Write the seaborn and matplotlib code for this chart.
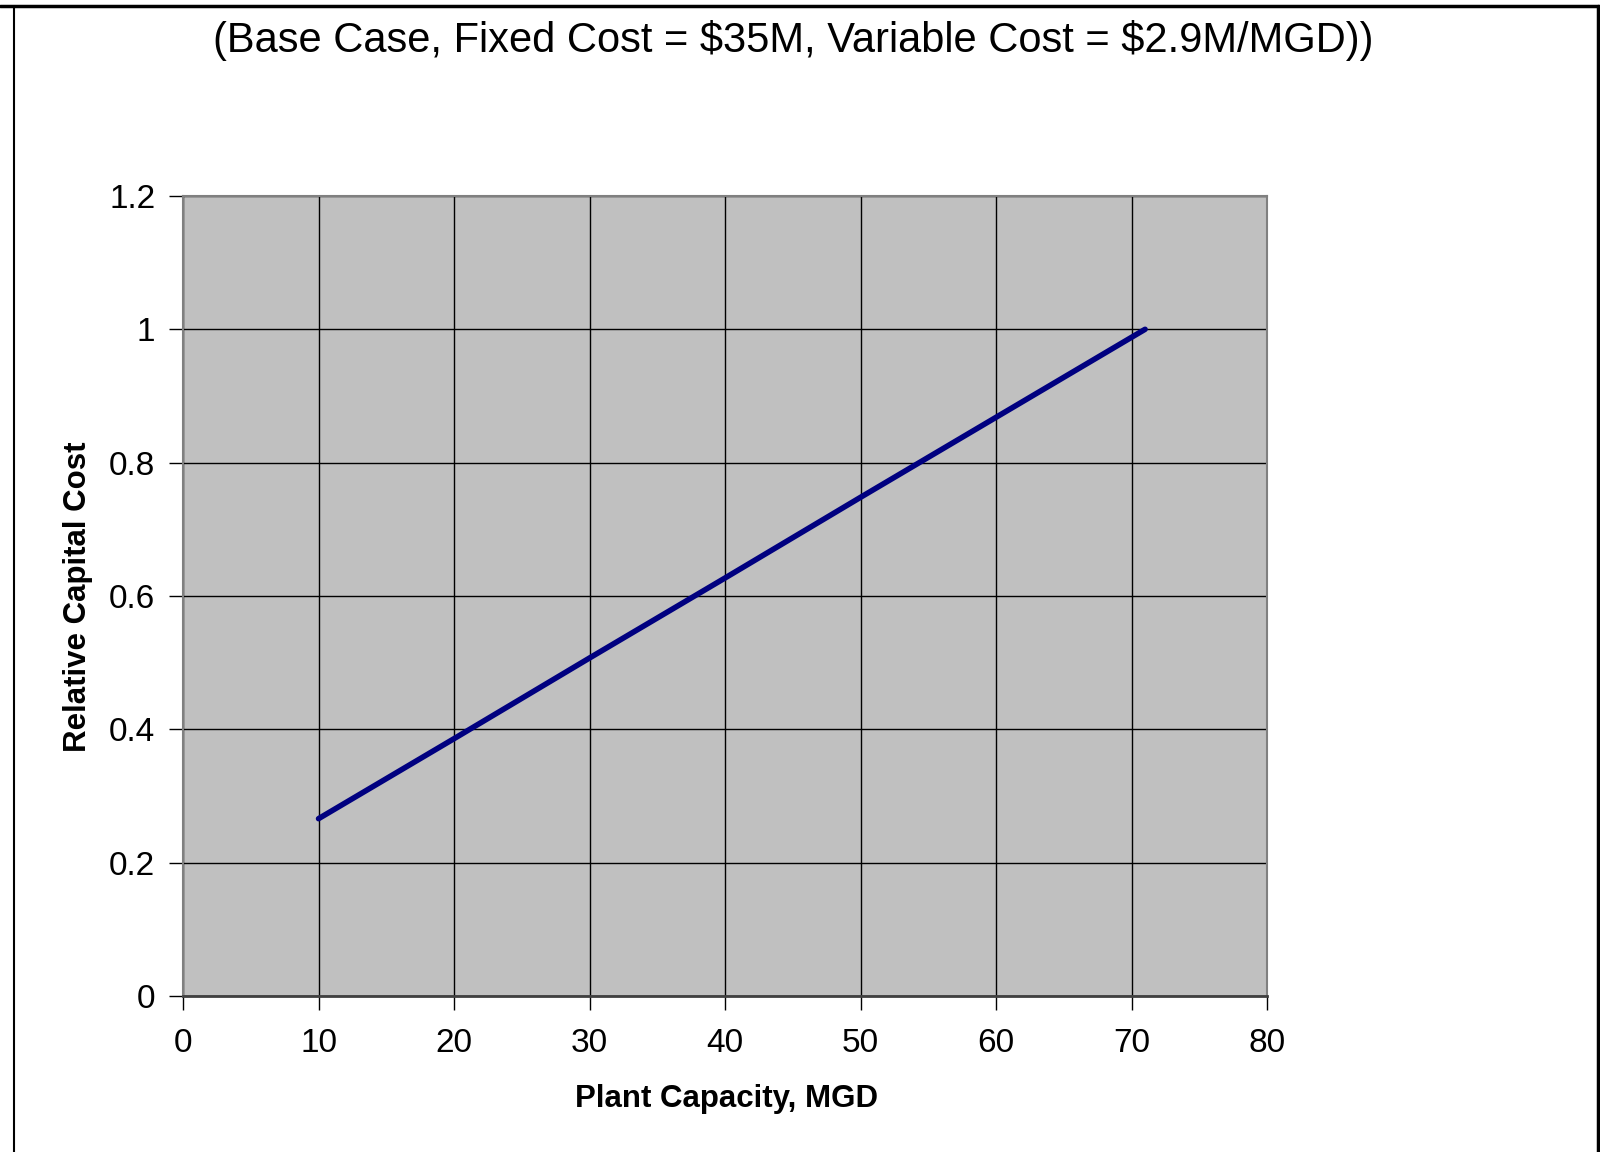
import matplotlib
matplotlib.use("Agg")
import matplotlib.pyplot as plt
import seaborn as sns
import pandas as pd
from matplotlib.lines import Line2D

# Plant capacity (MGD) vs relative capital cost
capacidad = [10, 20, 30, 40, 50, 60, 71]
costo_relativo = [0.266, 0.386, 0.507, 0.627, 0.748, 0.868, 1.0]

x_ticks = [0, 10, 20, 30, 40, 50, 60, 70, 80]
y_ticks = [0, 0.2, 0.4, 0.6, 0.8, 1, 1.2]
y_labels = ["0", "0.2", "0.4", "0.6", "0.8", "1", "1.2"]

titulo = "(Base Case, Fixed Cost = $35M, Variable Cost = $2.9M/MGD))"

datos = pd.DataFrame({"Capacidad": capacidad, "Costo": costo_relativo})

sns.set_style("white")
plt.rcParams["font.family"] = ["Liberation Sans", "DejaVu Sans"]
plt.rcParams["text.color"] = "black"
plt.rcParams["xtick.color"] = "black"
plt.rcParams["ytick.color"] = "black"

fig = plt.figure(figsize=(16, 11.52), dpi=100)
ax = fig.add_axes([0.1144, 0.1354, 0.6775, 0.6945])
ax.set_facecolor("#C0C0C0")

sns.lineplot(data=datos, x="Capacidad", y="Costo", ax=ax, color="#000080",
             linewidth=4, solid_capstyle="round")

ax.set_xlim(0, 80)
ax.set_ylim(0, 1.2)
ax.set_xticks(x_ticks)
ax.set_yticks(y_ticks)
ax.set_yticklabels(y_labels)
ax.grid(True, color="black", linewidth=1.0)
ax.set_axisbelow(True)
ax.tick_params(axis="both", direction="out", length=10, width=1, color="black",
               labelcolor="black", labelsize=24, left=True, bottom=True)
ax.tick_params(axis="x", pad=13)
ax.tick_params(axis="y", pad=10)

for lado in ["top", "right", "left"]:
    ax.spines[lado].set_color("#808080")
    ax.spines[lado].set_linewidth(1.5)
ax.spines["bottom"].set_color("#404040")
ax.spines["bottom"].set_linewidth(2)

ax.set_xlabel("")
ax.set_ylabel("")
fig.text(0.454, 0.046, "Plant Capacity, MGD", fontsize=22.5, fontweight="bold",
         color="black", ha="center", va="center")
fig.text(0.049, 0.482, "Relative Capital Cost", fontsize=22.5, fontweight="bold",
         color="black", ha="center", va="center", rotation=90)
fig.text(0.496, 0.965, titulo, fontsize=30, color="black", ha="center",
         va="center", parse_math=False)

# outer frame lines
fig.add_artist(Line2D([0.0, 1.0], [1 - 6 / 1152, 1 - 6 / 1152], color="black",
                      linewidth=2.5, transform=fig.transFigure))
fig.add_artist(Line2D([14 / 1600, 14 / 1600], [0, 1 - 6 / 1152], color="black",
                      linewidth=1.5, transform=fig.transFigure))
fig.add_artist(Line2D([1598 / 1600, 1598 / 1600], [0, 1 - 6 / 1152], color="black",
                      linewidth=2.5, transform=fig.transFigure))

fig.savefig("out.png", dpi=100)
